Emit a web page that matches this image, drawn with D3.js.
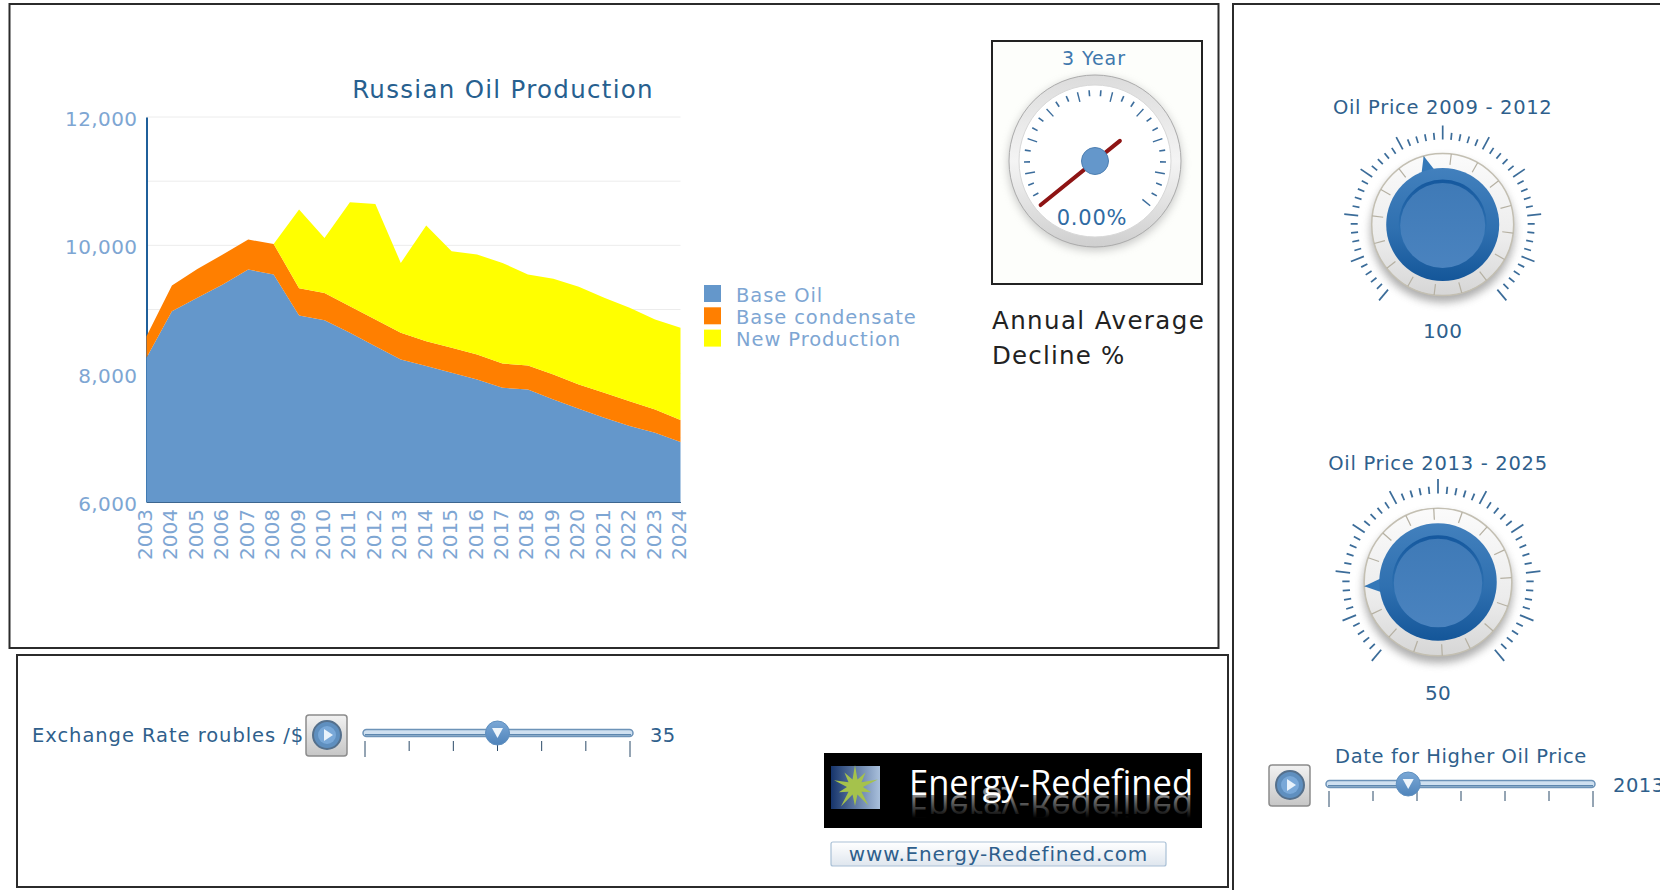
<!DOCTYPE html>
<html>
<head>
<meta charset="utf-8">
<title>Russian Oil Production</title>
<script src="https://cdn.jsdelivr.net/npm/d3@7/dist/d3.min.js"></script>
<style>
  html, body { margin: 0; padding: 0; background: #fff; overflow: hidden; }
  svg { display: block; font-family: "DejaVu Sans", sans-serif; }
</style>
</head>
<body>
<svg id="board" width="1660" height="890"></svg>
<script>
// Production series in thousand barrels per day, stacked in this order.
const years = d3.range(2003, 2025).map(String);
const baseOil = [8247, 8974, 9182, 9389, 9623, 9545, 8906, 8834, 8637, 8429, 8221, 8118, 8014, 7910, 7780, 7754, 7599, 7453, 7313, 7183, 7080, 6934];
const baseCondensate = [338, 400, 451, 467, 467, 477, 426, 425, 415, 415, 416, 389, 389, 389, 379, 374, 389, 379, 389, 389, 363, 343];
const newProduction = [0, 0, 0, 0, 0, 0, 1225, 857, 1619, 1801, 1089, 1801, 1505, 1557, 1567, 1417, 1490, 1521, 1480, 1454, 1401, 1437];

const seriesNames = ["Base Oil", "Base condensate", "New Production"];
const seriesColors = ["#6497cb", "#ff7f00", "#ffff00"];
const yLabelTicks = [6000, 8000, 10000, 12000];
const yGridTicks = [7000, 8000, 9000, 10000, 11000, 12000];

// Control readings
const gaugeValue = 0;
const oilPriceEarly = 100;
const oilPriceLate = 50;
const exchangeRate = 35;
const higherPriceYear = 2013;

const ink = "#2f5f8c";
const svg = d3.select("#board");
const defs = svg.append("defs");

function label(parent, text, x, y, size, fill, anchor = "middle", spacing = 0) {
  return parent.append("text")
    .attr("x", x).attr("y", y)
    .attr("dominant-baseline", "central")
    .attr("text-anchor", anchor)
    .attr("font-size", size)
    .attr("letter-spacing", spacing)
    .attr("fill", fill)
    .text(text);
}

function gradient(id, stops, x2 = 0, y2 = 1) {
  const g = defs.append("linearGradient").attr("id", id)
    .attr("x1", 0).attr("y1", 0).attr("x2", x2).attr("y2", y2);
  stops.forEach(([o, c, a]) => g.append("stop").attr("offset", o).attr("stop-color", c).attr("stop-opacity", a === undefined ? 1 : a));
}

gradient("rimGrad", [[0, "#dcdcdc"], [0.5, "#f4f4f4"], [1, "#cfcfcf"]]);
gradient("ringGrad", [[0, "#fbfbfb"], [0.6, "#ececec"], [1, "#d6d6d6"]]);
gradient("knobGrad", [[0, "#4280bd"], [0.55, "#2f70b0"], [1, "#145699"]]);
gradient("capRim", [[0, "#15589e"], [0.5, "#2a6dae"], [1, "#2f72b2", 0]]);
gradient("capGrad", [[0, "#3f7ab7"], [1, "#4a83bf"]]);
gradient("btnGrad", [[0, "#f2f2f2"], [1, "#c6c6c6"]]);
gradient("thumbGrad", [[0, "#7ba8d6"], [1, "#4f84bb"]]);
gradient("logoSquare", [[0, "#16346b"], [1, "#a9c0dc"]], 1, 0);
gradient("urlGrad", [[0, "#ffffff"], [1, "#dfe6ee"]]);
defs.append("filter").attr("id", "soft").attr("x", "-30%").attr("y", "-30%").attr("width", "160%").attr("height", "160%")
  .append("feGaussianBlur").attr("stdDeviation", 4);

// Panel frames
const frames = [
  [9.5, 4, 1209, 644],
  [17, 655, 1211, 232],
  [1233, 4, 500, 900]
];
svg.append("g").selectAll("rect").data(frames).join("rect")
  .attr("x", d => d[0]).attr("y", d => d[1]).attr("width", d => d[2]).attr("height", d => d[3])
  .attr("fill", "none").attr("stroke", "#2b2b2b").attr("stroke-width", 2);

// ---- Stacked area chart ----
const plot = { left: 146.5, right: 680.5, top: 117, bottom: 502 };
const x = d3.scalePoint().domain(years).range([plot.left, plot.right]);
// Clamped so the stack's zero baseline lands on the axis floor at 6,000
const y = d3.scaleLinear().domain([6000, 12000]).range([plot.bottom, plot.top]).clamp(true);

const chart = svg.append("g");
label(chart, "Russian Oil Production", 503, 89.5, 24.5, "#27608f", "middle", 1.3);

chart.append("g").selectAll("line").data(yGridTicks).join("line")
  .attr("x1", plot.left).attr("x2", plot.right)
  .attr("y1", d => y(d)).attr("y2", d => y(d))
  .attr("stroke", "#ececec").attr("stroke-width", 1);

const rows = years.map((yr, i) => ({
  year: yr,
  [seriesNames[0]]: baseOil[i],
  [seriesNames[1]]: baseCondensate[i],
  [seriesNames[2]]: newProduction[i]
}));
const layers = d3.stack().keys(seriesNames)(rows);
const area = d3.area()
  .x(d => x(d.data.year))
  .y0(d => y(d[0]))
  .y1(d => y(d[1]));

const yAxis = chart.append("g")
  .attr("transform", `translate(${plot.left},0)`)
  .call(d3.axisLeft(y).tickValues(yLabelTicks).tickFormat(d3.format(",")).tickSize(0).tickPadding(9));
yAxis.select(".domain").attr("stroke", "#1f5f9a").attr("stroke-width", 2);
yAxis.selectAll("text").attr("font-size", 20).attr("letter-spacing", 0.4).attr("fill", "#7ea6d3").attr("font-family", "DejaVu Sans").attr("dy", "0.62em")
  .attr("transform", "translate(0,-4)");

chart.append("g").selectAll("path").data(layers).join("path")
  .attr("d", area)
  .attr("fill", (d, i) => seriesColors[i]);

const xAxis = chart.append("g")
  .attr("transform", `translate(0,${plot.bottom})`)
  .call(d3.axisBottom(x).tickSize(0).tickPadding(6));
xAxis.select(".domain").attr("stroke", "#3d668f").attr("stroke-width", 1);
xAxis.selectAll("g.tick").attr("transform", d => `translate(${x(d) - 1.5},0)`);
xAxis.selectAll("text")
  .attr("font-size", 20).attr("fill", "#7ea6d3").attr("font-family", "DejaVu Sans")
  .attr("text-anchor", "end").attr("dominant-baseline", "central")
  .attr("x", -7).attr("y", 0).attr("dy", 0)
  .attr("transform", "rotate(-90)");

// Legend
const legend = chart.append("g").selectAll("g").data(seriesNames).join("g")
  .attr("transform", (d, i) => `translate(704,${285 + i * 22.3})`);
legend.append("rect").attr("width", 17).attr("height", 17)
  .attr("fill", (d, i) => seriesColors[i]);
legend.append("text").attr("x", 32).attr("y", 10).attr("dominant-baseline", "central")
  .attr("font-size", 19.5).attr("letter-spacing", 0.9).attr("fill", "#7ea6d3").text(d => d);

// ---- Decline gauge ----
const gaugeBox = svg.append("g");
gaugeBox.append("rect").attr("x", 992).attr("y", 41).attr("width", 210).attr("height", 243)
  .attr("fill", "#fdfefb").attr("stroke", "#222").attr("stroke-width", 2);
label(gaugeBox, "3 Year", 1094, 58, 19, "#3f78ad", "middle", 0.9);

const gc = { x: 1095, y: 161 };
const gaugeAngle = d3.scaleLinear().domain([0, 45]).range([-129, 129]);
const polar = (deg, r) => [r * Math.sin(deg * Math.PI / 180), -r * Math.cos(deg * Math.PI / 180)];

const gauge = gaugeBox.append("g").attr("transform", `translate(${gc.x},${gc.y})`);
gauge.append("circle").attr("r", 87).attr("cy", 3).attr("fill", "#999").attr("opacity", 0.5).attr("filter", "url(#soft)");
gauge.append("circle").attr("r", 86).attr("fill", "url(#rimGrad)").attr("stroke", "#ababab").attr("stroke-width", 1);
gauge.append("circle").attr("r", 76).attr("fill", "#fff").attr("stroke", "#d8d8d8").attr("stroke-width", 1);

gauge.append("g").selectAll("line").data(d3.range(0, 46, 5 / 3).map((v, i) => ({ v, major: i % 3 === 0 }))).join("line")
  .each(function (d) {
    const deg = gaugeAngle(d.v);
    const [x1, y1] = polar(deg, d.major ? 61 : 65);
    const [x2, y2] = polar(deg, 71);
    d3.select(this).attr("x1", x1).attr("y1", y1).attr("x2", x2).attr("y2", y2);
  })
  .attr("stroke", "#3c6d9c").attr("stroke-width", d => d.major ? 1.4 : 1.6);

const needleDeg = gaugeAngle(gaugeValue);
const [nx1, ny1] = polar(needleDeg, 70);
const [nx2, ny2] = polar(needleDeg, -32);
gauge.append("line").attr("x1", nx1).attr("y1", ny1).attr("x2", nx2).attr("y2", ny2)
  .attr("stroke", "#8e1414").attr("stroke-width", 4).attr("stroke-linecap", "round");
gauge.append("circle").attr("r", 13.5).attr("fill", "#6497cb").attr("stroke", "#4d7fb2").attr("stroke-width", 1);
label(gaugeBox, d3.format(".2f")(gaugeValue) + "%", 1092, 218, 21, "#2f6ba3", "middle", 0.8);

label(svg, "Annual Average", 992, 320, 24.5, "#222", "start", 1.4);
label(svg, "Decline %", 992, 355, 24.5, "#222", "start", 1.2);

// ---- Rotary price dials ----
const dialAngle = d3.scaleLinear().domain([20, 200]).range([-140, 140]);

function drawDial(cx, cy, k, title, titleY, value, valueY) {
  label(svg, title, cx, titleY, 19.5, ink, "middle", 0.7);
  label(svg, String(value), cx, valueY, 20, ink, "middle", 0.4);
  const g = svg.append("g").attr("transform", `translate(${cx},${cy}) scale(${k})`);

  // Outer scale: ten divisions of five steps each
  g.append("g").selectAll("line").data(d3.range(51)).join("line")
    .each(function (i) {
      const deg = -140 + i * 5.6;
      const major = i % 5 === 0;
      const [x1, y1] = polar(deg, 85);
      const [x2, y2] = polar(deg, major ? 99 : 92);
      d3.select(this).attr("x1", x1).attr("y1", y1).attr("x2", x2).attr("y2", y2);
    })
    .attr("stroke", "#3b6c99").attr("stroke-width", d => d % 5 === 0 ? 1.7 : 1.7);

  const deg = dialAngle(value);
  g.append("circle").attr("r", 72).attr("cy", 6).attr("fill", "#777").attr("opacity", 0.6).attr("filter", "url(#soft)");
  g.append("circle").attr("r", 71).attr("fill", "url(#ringGrad)").attr("stroke", "#c3bfb2").attr("stroke-width", 1.5);

  g.append("g").selectAll("line").data(d3.range(16)).join("line")
    .each(function (i) {
      const [x1, y1] = polar(deg + i * 22.5, 60);
      const [x2, y2] = polar(deg + i * 22.5, 71);
      d3.select(this).attr("x1", x1).attr("y1", y1).attr("x2", x2).attr("y2", y2);
    })
    .attr("stroke", "#b5b0a2").attr("stroke-width", 1.2);

  // Pointer sits on the knob rim and rotates with the value
  const [tipX, tipY] = polar(deg, 71);
  const [aX, aY] = polar(deg - 9, 52);
  const [bX, bY] = polar(deg + 9, 52);
  g.append("path").attr("d", d3.line()([[tipX, tipY], [aX, aY], [bX, bY]])).attr("fill", "#3478b8");

  g.append("circle").attr("r", 56.5).attr("fill", "url(#knobGrad)");
  g.append("circle").attr("r", 44).attr("cy", -1).attr("fill", "url(#capRim)");
  g.append("circle").attr("r", 42.5).attr("cy", 1).attr("fill", "url(#capGrad)");
}

drawDial(1442.7, 224.5, 1, "Oil Price 2009 - 2012", 107, oilPriceEarly, 331);
drawDial(1438, 582, 1.04, "Oil Price 2013 - 2025", 463, oilPriceLate, 693);

// ---- Sliders with play buttons ----
function drawSlider(domain, value, xs, trackX, trackY, tickTop, btn) {
  const s = d3.scaleLinear().domain(domain).range(xs);
  const g = svg.append("g");

  g.append("rect").attr("x", btn.x).attr("y", btn.y).attr("width", 41).attr("height", 41).attr("rx", 3)
    .attr("fill", "url(#btnGrad)").attr("stroke", "#8c8c8c").attr("stroke-width", 1.5);
  const bx = btn.x + 21, by = btn.y + 20;
  g.append("circle").attr("cx", bx).attr("cy", by).attr("r", 14).attr("fill", "#5f8fbf").attr("stroke", "#55708c").attr("stroke-width", 2);
  g.append("circle").attr("cx", bx).attr("cy", by).attr("r", 9).attr("fill", "#79a8d8");
  g.append("path").attr("d", d3.line()([[bx - 3, by - 6], [bx + 6, by], [bx - 3, by + 6]])).attr("fill", "#e8f2fb");

  g.append("rect").attr("x", trackX[0]).attr("y", trackY - 3.5).attr("width", trackX[1] - trackX[0]).attr("height", 7).attr("rx", 3.5)
    .attr("fill", "#cfe0f0").attr("stroke", "#6d93b8").attr("stroke-width", 1.5);
  g.append("line").attr("x1", trackX[0] + 2).attr("x2", trackX[1] - 2).attr("y1", trackY + 1.8).attr("y2", trackY + 1.8)
    .attr("stroke", "#5d87ae").attr("stroke-width", 1.6);

  const ticks = d3.range(7).map(i => domain[0] + i * (domain[1] - domain[0]) / 6);
  g.append("g").selectAll("line").data(ticks).join("line")
    .attr("x1", d => s(d)).attr("x2", d => s(d))
    .attr("y1", () => tickTop)
    .attr("y2", (d, i) => (i === 0 || i === 6) ? tickTop + 16 : tickTop + 10)
    .attr("stroke", "#2b4a68").attr("stroke-width", 1);

  const tx = s(value);
  g.append("circle").attr("cx", tx).attr("cy", trackY).attr("r", 12).attr("fill", "url(#thumbGrad)").attr("stroke", "#5f8fbf").attr("stroke-width", 1);
  g.append("path").attr("d", d3.line()([[tx - 5.5, trackY - 5], [tx + 5.5, trackY - 5], [tx, trackY + 5]])).attr("fill", "#eef5fb");
}

label(svg, "Exchange Rate roubles /$", 32, 735, 19.5, ink, "start", 0.95);
drawSlider([20, 50], exchangeRate, [365, 630], [363, 633], 733, 741, { x: 306, y: 715 });
label(svg, String(exchangeRate), 650, 735, 19.5, ink, "start", 0.4);

label(svg, "Date for Higher Oil Price", 1461, 756, 19.5, ink, "middle", 0.6);
drawSlider([2010, 2020], higherPriceYear, [1329, 1593], [1326, 1595], 784, 791, { x: 1269, y: 765 });
label(svg, String(higherPriceYear), 1613, 785, 19.5, ink, "start", 0.5);

// ---- Logo banner and link ----
const logo = svg.append("g");
logo.append("rect").attr("x", 824).attr("y", 753).attr("width", 378).attr("height", 75).attr("fill", "#000");
logo.append("rect").attr("x", 831).attr("y", 766).attr("width", 49).attr("height", 43).attr("fill", "url(#logoSquare)");

const starSpikes = [22, 8, 18, 8, 24, 8, 17, 8, 23, 8, 19, 8, 24, 8, 17, 8, 22, 8, 18, 8];
const radial = d3.lineRadial().angle((d, i) => i * 2 * Math.PI / starSpikes.length).radius(d => d).curve(d3.curveLinearClosed);
logo.append("path").attr("transform", "translate(855,787)").attr("d", radial(starSpikes)).attr("fill", "#a5c24c");

const brand = "Energy-Redefined";
logo.append("text").attr("x", 1193).attr("y", 795).attr("text-anchor", "end")
  .attr("font-family", "Open Sans, sans-serif").attr("font-size", 34.5).attr("fill", "#fff").text(brand);
const fade = defs.append("linearGradient").attr("id", "mirrorFade").attr("gradientUnits", "userSpaceOnUse")
  .attr("x1", 0).attr("y1", 795).attr("x2", 0).attr("y2", 772);
fade.append("stop").attr("offset", 0).attr("stop-color", "#fff").attr("stop-opacity", 0.55);
fade.append("stop").attr("offset", 1).attr("stop-color", "#fff").attr("stop-opacity", 0);
logo.append("g").attr("transform", "translate(0,1590) scale(1,-1)").append("text")
  .attr("x", 1193).attr("y", 795).attr("text-anchor", "end")
  .attr("font-family", "Open Sans, sans-serif").attr("font-size", 34.5).attr("fill", "url(#mirrorFade)").text(brand);

svg.append("rect").attr("x", 831).attr("y", 842).attr("width", 335).attr("height", 24).attr("rx", 2)
  .attr("fill", "url(#urlGrad)").attr("stroke", "#a9c0d6").attr("stroke-width", 1.2);
label(svg, "www.Energy-Redefined.com", 998.5, 853.5, 20, ink, "middle", 0.8);
</script>
</body>
</html>
